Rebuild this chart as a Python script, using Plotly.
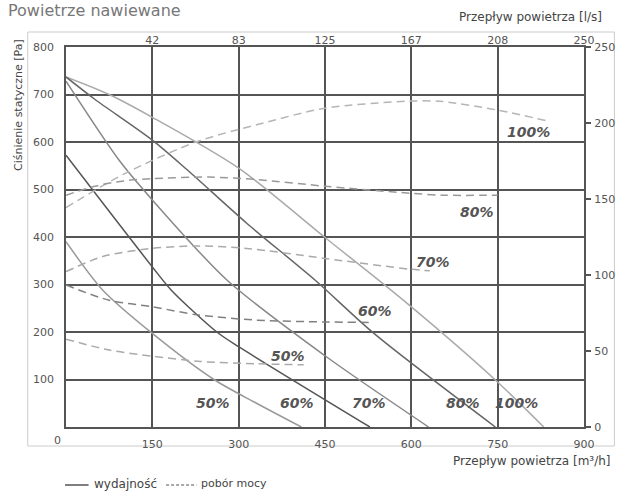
import plotly.graph_objects as go

# ---------------- data ----------------
# performance curves (wydajność): x = air flow [m3/h], y = static pressure [Pa]
perf_100_x = [0, 75, 150, 300, 450, 586, 746, 830]
perf_100_y = [737, 700, 652, 545, 399, 267, 99, 0]
perf_80_x = [0, 50, 150, 211, 314, 433, 535, 746]
perf_80_y = [737, 690, 604, 541, 429, 309, 197, 0]
perf_70_x = [0, 92, 150, 280, 450, 630]
perf_70_y = [728, 562, 478, 309, 150, 0]
perf_60_x = [0, 150, 183, 262, 300, 528]
perf_60_y = [572, 337, 288, 200, 169, 0]
perf_50_x = [0, 64, 150, 257, 331, 409]
perf_50_y = [390, 288, 197, 100, 50, 0]

# power consumption curves (pobór mocy): y = power [W] on right axis
pow_100_x = [0, 103, 228, 331, 450, 598, 655, 751, 837]
pow_100_y = [144.4, 166.9, 187.8, 198.8, 209.7, 214.4, 214.1, 208.4, 201.3]
pow_80_x = [0, 50, 100, 150, 250, 331, 450, 598, 655, 750]
pow_80_y = [152.5, 158.4, 161.9, 163.4, 164.4, 162.8, 158.4, 153.8, 152.5, 152.5]
pow_70_x = [0, 64, 150, 225, 314, 450, 598, 632]
pow_70_y = [102.2, 112.2, 117.5, 119.1, 117.5, 110.9, 103.8, 102.8]
pow_60_x = [0, 75, 150, 228, 331, 450, 530]
pow_60_y = [93.4, 83.4, 79.1, 73.8, 70.3, 69.1, 68.8]
pow_50_x = [0, 75, 150, 234, 331, 413]
pow_50_y = [57.8, 50.6, 46.6, 43.1, 41.6, 40.9]

x_ticks = [150, 300, 450, 600, 750, 900]
x_top_labels = ["42", "83", "125", "167", "208", "250"]
y_ticks = [100, 200, 300, 400, 500, 600, 700, 800]
y2_ticks = [0, 50, 100, 150, 200, 250]

# labels: (text, x, y in Pa units)
perf_labels = [("50%", 256, 50), ("60%", 402, 50), ("70%", 527, 50),
               ("80%", 689, 50), ("100%", 783, 50)]
pow_labels = [("50%", 385, 149), ("60%", 537, 244), ("70%", 638, 347),
              ("80%", 714, 453), ("100%", 803, 621)]

# ---------------- figure ----------------
W, H = 627, 491
L, R, T, B = 66, 594, 47, 427


def px(x):
    return (x - L) / (R - L)


def py(y):
    return (B - y) / (B - T)


fig = go.Figure()

solid = [
    (perf_100_x, perf_100_y, "#aaaaaa"),
    (perf_80_x, perf_80_y, "#666666"),
    (perf_70_x, perf_70_y, "#888888"),
    (perf_60_x, perf_60_y, "#555555"),
    (perf_50_x, perf_50_y, "#9a9a9a"),
]
for xs, ys, c in solid:
    fig.add_trace(go.Scatter(x=xs, y=ys, mode="lines", line=dict(color=c, width=1.5, shape="spline", smoothing=0.8),
                             showlegend=False, hoverinfo="skip"))

dashed = [
    (pow_100_x, pow_100_y, "#b5b5b5"),
    (pow_80_x, pow_80_y, "#999999"),
    (pow_70_x, pow_70_y, "#aaaaaa"),
    (pow_60_x, pow_60_y, "#808080"),
    (pow_50_x, pow_50_y, "#aaaaaa"),
]
for xs, ys, c in dashed:
    fig.add_trace(go.Scatter(x=xs, y=ys, mode="lines", yaxis="y2",
                             line=dict(color=c, width=1.5, dash="8px,5px", shape="spline", smoothing=0.8),
                             showlegend=False, hoverinfo="skip"))

# dummy trace for top axis
fig.add_trace(go.Scatter(x=[0, 900], y=[None, None], xaxis="x2", mode="lines", showlegend=False, hoverinfo="skip"))

font_tick = dict(family="DejaVu Sans", size=11, color="#555555")
font_title = dict(family="DejaVu Sans", size=11, color="#444444")
font_title12 = dict(family="DejaVu Sans", size=12, color="#444444")

fig.update_layout(
    width=W, height=H,
    margin=dict(l=L, r=W - R, t=T, b=H - B),
    paper_bgcolor="white", plot_bgcolor="white",
    xaxis=dict(range=[0, 900], tickvals=x_ticks, showgrid=True, gridcolor="#555555", gridwidth=1.5,
               showline=True, linecolor="#555555", linewidth=1.5, mirror=True, zeroline=False,
               ticks="", tickfont=font_tick, ticklabelstandoff=6, fixedrange=True),
    xaxis2=dict(range=[0, 900], overlaying="x", side="top", tickvals=x_ticks, ticktext=x_top_labels,
                showgrid=False, showline=False, zeroline=False, ticks="", tickfont=font_tick,
                ticklabelstandoff=0),
    yaxis=dict(range=[0, 800], tickvals=y_ticks, showgrid=True, gridcolor="#555555", gridwidth=1.5,
               showline=True, linecolor="#555555", linewidth=1.5, mirror=True, zeroline=False,
               ticks="", tickfont=font_tick, ticklabelstandoff=8),
    yaxis2=dict(range=[0, 250], overlaying="y", side="right", tickvals=y2_ticks, showgrid=False,
                showline=False, zeroline=False, ticks="outside", ticklen=6, tickcolor="#555555",
                tickwidth=1.5, tickfont=font_tick, ticklabelstandoff=1),
)

annots = []
lab_font = dict(family="DejaVu Sans", size=14, color="#555555", weight="bold", style="italic")
for t, x, y in perf_labels + pow_labels:
    annots.append(dict(x=x, y=y, xref="x", yref="y", text=t, showarrow=False, font=lab_font,
                       xanchor="center", yanchor="middle"))


def note(text, x, y, font, xanchor="center", textangle=0):
    return dict(x=px(x), y=py(y), xref="paper", yref="paper", text=text, showarrow=False,
                xanchor=xanchor, yanchor="middle", font=font, textangle=textangle)


annots += [
    note("0", 57, 441, font_tick),
    note("Powietrze nawiewane", 5, 10, dict(family="DejaVu Sans", size=16, color="#777777"), xanchor="left"),
    note("Ciśnienie statyczne [Pa]", 17, 105, font_title, textangle=-90),
    note("Przepływ powietrza [l/s]", 614, 17, font_title12, xanchor="right"),
    note("Przepływ powietrza [m³/h]", 624, 461, font_title12, xanchor="right"),
    note("wydajność", 92, 484, font_title12, xanchor="left"),
    note("pobór mocy", 202, 484, font_title, xanchor="left"),
]
fig.update_layout(annotations=annots)

shapes = [
    dict(type="rect", xref="paper", yref="paper", x0=px(27), x1=px(625), y0=py(32), y1=py(446),
         line=dict(color="#cccccc", width=1), layer="below"),
    dict(type="line", xref="paper", yref="paper", x0=px(65), x1=px(89), y0=py(485), y1=py(485),
         line=dict(color="#555555", width=1.5)),
    dict(type="line", xref="paper", yref="paper", x0=px(168), x1=px(199), y0=py(485), y1=py(485),
         line=dict(color="#555555", width=1.2, dash="3px,2px")),
]
fig.update_layout(shapes=shapes)

fig.write_html("out.html", config={"displayModeBar": False},
               post_script="document.body.style.margin='0';")
